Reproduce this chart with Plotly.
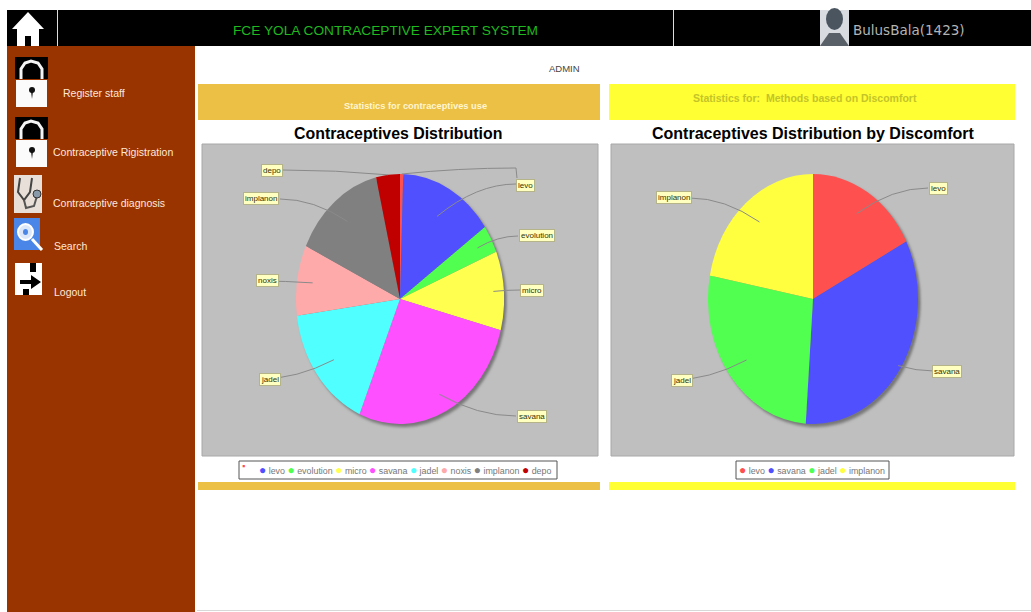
import math
import plotly.graph_objects as go

W, H = 1031, 612

# Usage shares per method, clockwise from twelve o'clock
use_labels = ["", "levo", "evolution", "micro", "savana", "jadel", "noxis", "implanon", "depo"]
use_values = [0.5, 14.7, 3.6, 10.2, 27.3, 16.5, 9.1, 14.3, 3.7]
use_colors = ["#FF5050", "#5050FF", "#50FF50", "#FFFF50", "#FF50FF", "#50FFFF", "#FFAAAA", "#808080", "#C00000"]

discomfort_labels = ["levo", "savana", "jadel", "implanon"]
discomfort_values = [17.4, 33.7, 26.9, 22.0]
discomfort_colors = ["#FF5050", "#5050FF", "#50FF50", "#FFFF40"]

menu_items = ["Register staff", "Contraceptive Rigistration", "Contraceptive diagnosis", "Search", "Logout"]

# Pie ellipses: centre x, centre y, horizontal radius, vertical radius
USE_PIE = (400, 299, 104, 125)
DISCOMFORT_PIE = (813, 299, 105, 125)


def px(x):
    return x / W


def py(y):
    return 1 - y / H


def rect(x0, y0, x1, y1, fill, line=None, lw=0, layer="below"):
    return dict(type="rect", xref="paper", yref="paper", x0=px(x0), x1=px(x1), y0=py(y0), y1=py(y1),
                fillcolor=fill, line=dict(color=line or fill, width=lw), layer=layer)


def path(points, fill=None, line=None, lw=0, close=True, layer="below"):
    """Polygon or polyline from pixel coordinates."""
    d = "M " + " L ".join(f"{px(x):.5f},{py(y):.5f}" for x, y in points) + (" Z" if close else "")
    return dict(type="path", xref="paper", yref="paper", path=d, fillcolor=fill or "rgba(0,0,0,0)",
                line=dict(color=line or "rgba(0,0,0,0)", width=lw), layer=layer)


def ellipse(x0, y0, x1, y1, fill="rgba(0,0,0,0)", line=None, lw=0, layer="below"):
    return dict(type="circle", xref="paper", yref="paper", x0=px(x0), x1=px(x1), y0=py(y0), y1=py(y1),
                fillcolor=fill, line=dict(color=line or "rgba(0,0,0,0)", width=lw), layer=layer)


def text(x, y, s, size=9, color="#000", family="Liberation Sans", anchor="center", **kw):
    return dict(xref="paper", yref="paper", x=px(x), y=py(y), text=s, showarrow=False, xanchor=anchor,
                yanchor="middle", font=dict(size=size, color=color, family=family), **kw)


def pie_point(pie, values, index, frac):
    """Point on a slice's mid-angle at a fraction of the radius."""
    cx, cy, rx, ry = pie
    start = sum(values[:index])
    mid = (start + values[index] / 2) / sum(values) * 2 * math.pi
    return cx + rx * frac * math.sin(mid), cy - ry * frac * math.cos(mid)


def leader(pie, values, index, frac, end):
    x0, y0 = pie_point(pie, values, index, frac)
    x1, y1 = end
    qx, qy = (x0 + x1) / 2, y1
    d = f"M {px(x0):.5f},{py(y0):.5f} Q {px(qx):.5f},{py(qy):.5f} {px(x1):.5f},{py(y1):.5f}"
    return dict(type="path", xref="paper", yref="paper", path=d,
                line=dict(color="#8a8a8a", width=1), layer="above")


def tag(x, y, s):
    return text(x, y, s, size=8, color="#333300", bgcolor="#FFFFC0", bordercolor="#b4b488",
                borderwidth=1, borderpad=1)


def lock(top):
    return [
        rect(15, top, 48, top + 22, "#000000"),
        path([(21, top + 22), (21, top + 12), (25, top + 6), (31, top + 4), (38, top + 6), (42, top + 12), (42, top + 22)],
             line="#f4f4f4", lw=3, close=False),
        rect(16, top + 23, 47, top + 50, "#fbfbfb"),
        ellipse(29, top + 30, 35, top + 36, "#111111"),
        path([(31, top + 34), (33, top + 34), (32, top + 42)], fill="#111111"),
    ]


shapes = [
    # Page chrome
    rect(7, 46, 195, H, "#993300"),
    rect(7, 10, W, 46, "#000000"),
    rect(57, 10, 58, 46, "#dddddd"),
    rect(673, 10, 674, 46, "#dddddd"),
    rect(197, 610, W, 611, "#d8d8d8"),
    # Section bands
    rect(198, 84, 600, 120, "#ECC044"),
    rect(609, 84, 1015, 120, "#FFFF33"),
    rect(198, 482, 600, 490, "#ECC044"),
    rect(609, 482, 1015, 490, "#FFFF33"),
    # Chart panels
    rect(202, 144, 598, 456, "#BFBFBF", "#A8A8A8", 1),
    rect(611, 144, 1014, 456, "#BFBFBF", "#A8A8A8", 1),
    # Legend frames
    rect(239, 461, 557, 479, "#FFFFFF", "#555555", 1),
    rect(736, 461, 889, 479, "#FFFFFF", "#555555", 1),
    # Home icon
    path([(28, 12), (44, 29), (39, 29), (39, 46), (31, 46), (31, 36), (25, 36), (25, 46), (17, 46), (17, 29), (12, 29)],
         fill="#FFFFFF"),
    # Stethoscope icon
    rect(14, 175, 42, 213, "#E8E0D8"),
    path([(20, 178), (18, 192), (24, 200), (30, 192), (32, 178)], line="#444444", lw=2, close=False),
    path([(24, 200), (26, 208), (34, 206), (37, 196)], line="#555555", lw=2, close=False),
    ellipse(33, 190, 41, 198, "#8899AA", "#333333", 1),
    # Search icon
    rect(14, 218, 40, 250, "#4A86E8"),
    ellipse(18, 224, 33, 240, "#DCE8FA", "#FFFFFF", 2),
    ellipse(23, 229, 28, 235, "#4A86E8"),
    path([(32, 239), (42, 250)], line="#FFFFFF", lw=3, close=False),
    # Logout icon
    rect(15, 263, 42, 295, "#FFFFFF"),
    path([(20, 280), (31, 280), (31, 275), (41, 282), (31, 289), (31, 284), (20, 284)], fill="#000000"),
    rect(30, 263, 36, 272, "#000000"),
    rect(23, 289, 29, 295, "#000000"),
    # Profile picture
    rect(820, 10, 849, 46, "#D8DCE0"),
    ellipse(826, 8, 843, 30, "#4A5560"),
    path([(820, 46), (829, 33), (840, 33), (849, 46)], fill="#5A6068"),
]
shapes += lock(57) + lock(117)

# Leader lines start inside the slice they describe
use_targets = {1: (516, 184), 2: (518, 236), 3: (520, 290), 4: (516, 416), 5: (260, 379), 6: (258, 281), 7: (280, 199), 8: (283, 170)}
use_fracs = {1: 0.75, 2: 0.85, 3: 0.9, 4: 0.85, 5: 0.8, 6: 0.85, 7: 0.8, 8: 1.0}
for i, end in use_targets.items():
    shapes.append(leader(USE_PIE, use_values, i, use_fracs[i], end))
shapes.append(leader(USE_PIE, use_values, 0, 1.0, (516, 168)))
shapes.append(path([(516, 168), (517, 178)], line="#8a8a8a", lw=1, close=False, layer="above"))

discomfort_targets = {0: (928, 188), 1: (934, 371), 2: (672, 380), 3: (690, 198)}
discomfort_fracs = [0.8, 0.97, 0.8, 0.8]
for i, end in discomfort_targets.items():
    shapes.append(leader(DISCOMFORT_PIE, discomfort_values, i, discomfort_fracs[i], end))

menu_pos = [(61, 93), (51, 152), (51, 203), (52, 246), (52, 292)]
annotations = [text(x, y, s, size=10.5, color="#FFE8D8", anchor="left") for s, (x, y) in zip(menu_items, menu_pos)]

annotations += [
    text(385, 30, "FCE YOLA CONTRACEPTIVE EXPERT SYSTEM", size=13.7, color="#1FB81F"),
    text(909, 30, "BulusBala(1423)", size=13.5, color="#B4B4B4", family="DejaVu Sans"),
    text(564, 68, "ADMIN", size=9.5, color="#444444"),
    text(415, 106, "<b>Statistics for contraceptives use</b>", size=9.3, color="#FFF6D0"),
    text(805, 98, "<b>Statistics for:  Methods based on Discomfort</b>", size=10.5, color="#C4C428"),
    text(398, 133, "<b>Contraceptives Distribution</b>", size=15.9),
    text(813, 133, "<b>Contraceptives Distribution by Discomfort</b>", size=16),
]

for (x, y, s) in [(525, 185, "levo"), (537, 236, "evolution"), (532, 290, "micro"), (532, 416, "savana"),
                  (270, 379, "jadel"), (267, 281, "noxis"), (261, 199, "implanon"), (272, 170, "depo")]:
    annotations.append(tag(x, y, s))
for (x, y, s) in [(938, 188, "levo"), (947, 371, "savana"), (682, 380, "jadel"), (674, 198, "implanon")]:
    annotations.append(tag(x, y, s))


def legend_line(labels, colors):
    parts = [f'<span style="color:{c};font-size:12px">●</span> {lab}' for lab, c in zip(labels, colors) if lab]
    return " ".join(parts)


annotations.append(text(243, 466, "▪", size=9, color=use_colors[0]))
annotations.append(text(405, 470, legend_line(use_labels, use_colors), size=8.9, color="#777777"))
annotations.append(text(812, 470, legend_line(discomfort_labels, discomfort_colors), size=8.9, color="#777777"))


def pie_trace(labels, values, colors, pie):
    cx, cy, _, ry = pie
    return go.Pie(
        labels=labels, values=values, sort=False, direction="clockwise", rotation=0,
        marker=dict(colors=colors, line=dict(width=0)), textinfo="none", hoverinfo="skip", showlegend=False,
        domain=dict(x=[px(cx - ry), px(cx + ry)], y=[py(cy + ry), py(cy - ry)]),
    )


fig = go.Figure([
    pie_trace(use_labels, use_values, use_colors, USE_PIE),
    pie_trace(discomfort_labels, discomfort_values, discomfort_colors, DISCOMFORT_PIE),
])
fig.update_layout(
    width=W, height=H, autosize=False, margin=dict(l=0, r=0, t=0, b=0),
    paper_bgcolor="#FFFFFF", plot_bgcolor="#FFFFFF", showlegend=False,
    shapes=shapes, annotations=annotations,
)

# Pie traces are circular, so each one is squeezed horizontally about its centre into an ellipse
pies_js = [[p[0], p[2] / p[3]] for p in (USE_PIE, DISCOMFORT_PIE)]
post = """
var pies = %s;
document.querySelectorAll('.pielayer .trace').forEach(function (g, i) {
  var cx = pies[i][0], s = pies[i][1];
  g.setAttribute('transform', 'translate(' + cx + ',0) scale(' + s + ',1) translate(' + (-cx) + ',0)');
  g.style.filter = 'drop-shadow(3px 3px 1.5px rgba(60,60,60,0.55))';
});
""" % pies_js

fig.write_html("out.html", post_script=post, config=dict(displayModeBar=False, responsive=False))
